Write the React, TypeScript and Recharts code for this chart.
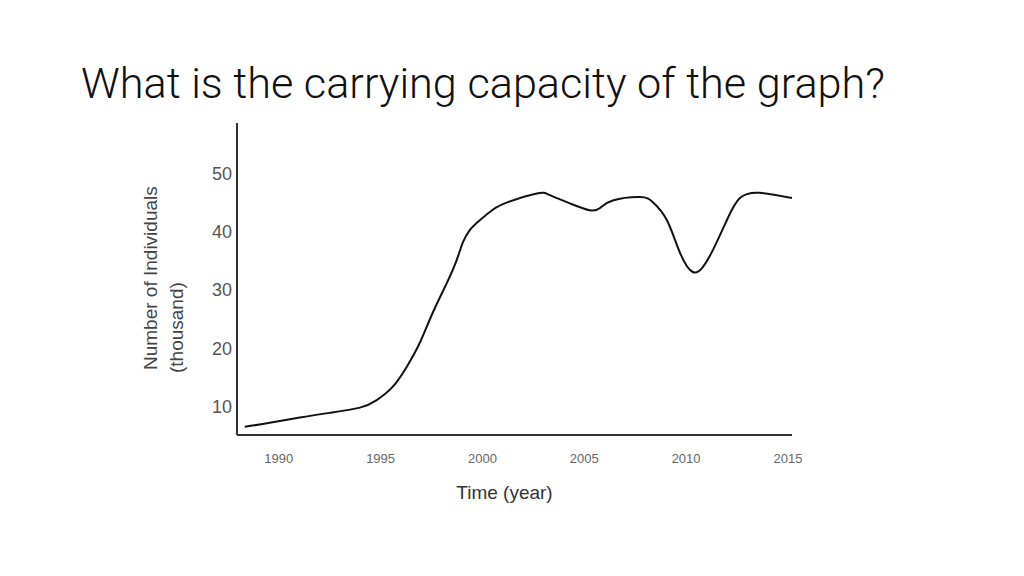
import React from 'react';
import { LineChart, Line, XAxis, YAxis, Label } from 'recharts';

const title = 'What is the carrying capacity of the graph?';
const xAxisTitle = 'Time (year)';
const yAxisTitleLines = ['Number of Individuals', '(thousand)'];

const years = [
  1988.33, 1989.56, 1991.03, 1992.5, 1993.98, 1994.81, 1995.6, 1996.28, 1996.92,
  1997.56, 1998.25, 1998.74, 1999.03, 1999.38, 1999.87, 2000.51, 2001.25, 2002.67,
  2003.31, 2004.29, 2005.27, 2005.77, 2006.4, 2007.73, 2008.37, 2009.06, 2009.7,
  2010.33, 2010.83, 2011.32, 2012.0, 2012.64, 2013.62, 2015.2,
];
const individuals = [
  6.5, 7.2, 8.1, 8.9, 9.8, 11.1, 13.4, 16.8, 20.9,
  26.1, 31.2, 35.2, 38.1, 40.3, 42.0, 43.8, 45.1, 46.6,
  46.3, 44.9, 43.7, 44.1, 45.4, 46.0, 45.1, 42.0, 36.4,
  33.1, 34.0, 36.9, 42.0, 45.8, 46.7, 45.8,
];
const xTicks = [1990, 1995, 2000, 2005, 2010, 2015];
const yTicks = [10, 20, 30, 40, 50];
const xDomain = [1987.95, 2015.2];
const yDomain = [5.1, 58.7];

const data = years.map((year, i) => ({ year, value: individuals[i] }));

const YTitle = (props: any) => {
  const vb = props.viewBox || { x: 0, y: 0, width: 0, height: 0 };
  const startY = vb.y + vb.height - 65;
  const x1 = vb.x - 20;
  const x2 = vb.x + 6;
  return (
    <g>
      <text
        x={x1}
        y={startY}
        transform={`rotate(-90 ${x1} ${startY})`}
        textAnchor="start"
        fontFamily="'Liberation Sans', Arial, sans-serif"
        fontSize={19}
        fill="#444"
      >
        {yAxisTitleLines[0]}
      </text>
      <text
        x={x2}
        y={startY + 3}
        transform={`rotate(-90 ${x2} ${startY + 3})`}
        textAnchor="start"
        fontFamily="'Liberation Sans', Arial, sans-serif"
        fontSize={19}
        fill="#444"
      >
        {yAxisTitleLines[1]}
      </text>
    </g>
  );
};

const XTitle = (props: any) => {
  const vb = props.viewBox || { x: 0, y: 0, width: 0, height: 0 };
  const cx = vb.x + vb.width / 2 - 10;
  return (
    <text
      x={cx}
      y={vb.y + 64}
      textAnchor="middle"
      fontFamily="'Liberation Sans', Arial, sans-serif"
      fontSize={19}
      fill="#333"
    >
      {xAxisTitle}
    </text>
  );
};

export default function App() {
  return (
    <div style={{ position: 'absolute', left: 0, top: 0, width: 1024, height: 576, background: '#fff' }}>
      <svg width={1024} height={576} style={{ position: 'absolute', left: 0, top: 0 }}>
        <text
          x={81}
          y={98}
          fontFamily="Roboto, Lato, sans-serif"
          fontWeight={300}
          fontSize={42}
          fill="#111"
          textLength={804}
          lengthAdjust="spacingAndGlyphs"
        >
          {title}
        </text>
      </svg>
      <div style={{ position: 'absolute', left: 0, top: 0 }}>
        <LineChart width={1024} height={576} data={data} margin={{ top: 123, right: 232, bottom: 111, left: 177 }}>
          <XAxis
            dataKey="year"
            type="number"
            domain={xDomain}
            ticks={xTicks}
            allowDataOverflow
            tickLine={false}
            tickSize={0}
            tickMargin={19}
            height={30}
            axisLine={{ stroke: '#333', strokeWidth: 2 }}
            tick={{ fontFamily: "'Liberation Sans', Arial, sans-serif", fontSize: 13, fill: '#666' }}
          >
            <Label content={<XTitle />} />
          </XAxis>
          <YAxis
            type="number"
            domain={yDomain}
            ticks={yTicks}
            allowDataOverflow
            tickLine={false}
            tickSize={0}
            tickMargin={5}
            width={60}
            axisLine={{ stroke: '#333', strokeWidth: 2 }}
            tick={{ fontFamily: "'Liberation Sans', Arial, sans-serif", fontSize: 18, fill: '#555' }}
          >
            <Label content={<YTitle />} />
          </YAxis>
          <Line
            type="natural"
            dataKey="value"
            stroke="#111"
            strokeWidth={2}
            dot={false}
            isAnimationActive={false}
          />
        </LineChart>
      </div>
    </div>
  );
}
